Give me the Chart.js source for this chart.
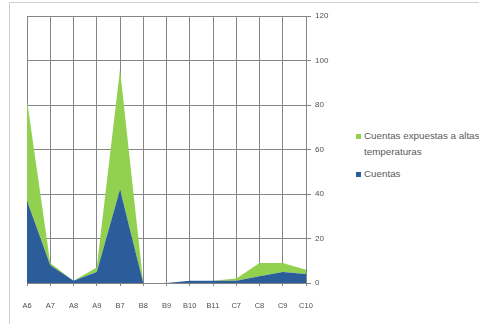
<!DOCTYPE html>
<html>
<head>
<meta charset="utf-8">
<script src="https://cdn.jsdelivr.net/npm/chart.js@4/dist/chart.umd.min.js"></script>
<style>
  html, body { margin: 0; padding: 0; background: #fff; }
  #wrap { position: relative; width: 479px; height: 324px; overflow: hidden; font-family: "Liberation Sans", Arial, sans-serif; }
  #frame { position: absolute; left: 9px; top: 2px; right: -2px; bottom: -2px; border-left: 1px solid #cfcfcf; border-top: 1px solid #cfcfcf; }
  #plot { position: absolute; left: 0; top: 0; width: 340px; height: 324px; }
  #legend { position: absolute; left: 356px; top: 128px; width: 160px; font-size: 9.8px; color: #5a5a5a; }
  .item { position: relative; padding-left: 8px; line-height: 16px; white-space: nowrap; margin-bottom: 6px; }
  .item .sw { position: absolute; left: 0; top: 6px; width: 5px; height: 5px; }
</style>
</head>
<body>
<div id="wrap">
  <div id="frame"></div>
  <div id="plot"><canvas id="c" width="340" height="324"></canvas></div>
  <div id="legend"></div>
</div>
<script>
// Muestras en el eje horizontal
const categories = ['A6', 'A7', 'A8', 'A9', 'B7', 'B8', 'B9', 'B10', 'B11', 'C7', 'C8', 'C9', 'C10'];
// Serie base (apilada abajo)
const cuentas = [37, 8, 1, 5, 42, 0, 0, 1, 1, 1, 3, 5, 4];
// Serie superior (apilada encima)
const expuestas = [45, 1, 0, 2, 54, 0, 0, 0, 0, 1, 6, 4, 2];
// Marcas del eje vertical
const yTicks = [0, 20, 40, 60, 80, 100, 120];

const seriesNames = ['Cuentas', 'Cuentas expuestas a altas temperaturas'];
const colors = ['#2B5D9B', '#92D050'];

const ctx = document.getElementById('c');
new Chart(ctx, {
  type: 'line',
  data: {
    labels: categories,
    datasets: [
      { label: seriesNames[0], data: cuentas, backgroundColor: colors[0], borderColor: colors[0], borderWidth: 0, fill: 'origin', pointRadius: 0, tension: 0 },
      { label: seriesNames[1], data: expuestas, backgroundColor: colors[1], borderColor: colors[1], borderWidth: 0, fill: '-1', pointRadius: 0, tension: 0 }
    ]
  },
  options: {
    responsive: false,
    animation: false,
    devicePixelRatio: 1,
    layout: { padding: { left: 27, top: 16, right: 0, bottom: 0 } },
    plugins: { legend: { display: false }, tooltip: { enabled: false } },
    scales: {
      x: {
        offset: false,
        grid: { color: '#858585', lineWidth: 1, tickLength: 3 },
        border: { color: '#858585' },
        ticks: { color: '#505050', font: { family: 'Liberation Sans', size: 7.5 }, padding: 15, maxRotation: 0, autoSkip: false },
        afterFit: s => { s.height = 41; }
      },
      y: {
        position: 'right',
        stacked: true,
        min: 0, max: 120,
        ticks: { stepSize: 20, color: '#505050', font: { family: 'Liberation Sans', size: 8 }, padding: 4 },
        grid: { color: '#858585', lineWidth: 1, tickLength: 5 },
        border: { color: '#858585' },
        afterBuildTicks: s => { s.ticks = yTicks.map(v => ({ value: v })); },
        afterFit: s => { s.width = 34; }
      }
    }
  }
});

// Leyenda a la derecha, en orden inverso al apilado
const legend = document.getElementById('legend');
[1, 0].forEach(i => {
  const d = document.createElement('div');
  d.className = 'item';
  d.innerHTML = '<span class="sw" style="background:' + colors[i] + '"></span>' +
    (i === 1 ? 'Cuentas expuestas a altas<br>temperaturas' : seriesNames[i]);
  legend.appendChild(d);
});
</script>
</body>
</html>
